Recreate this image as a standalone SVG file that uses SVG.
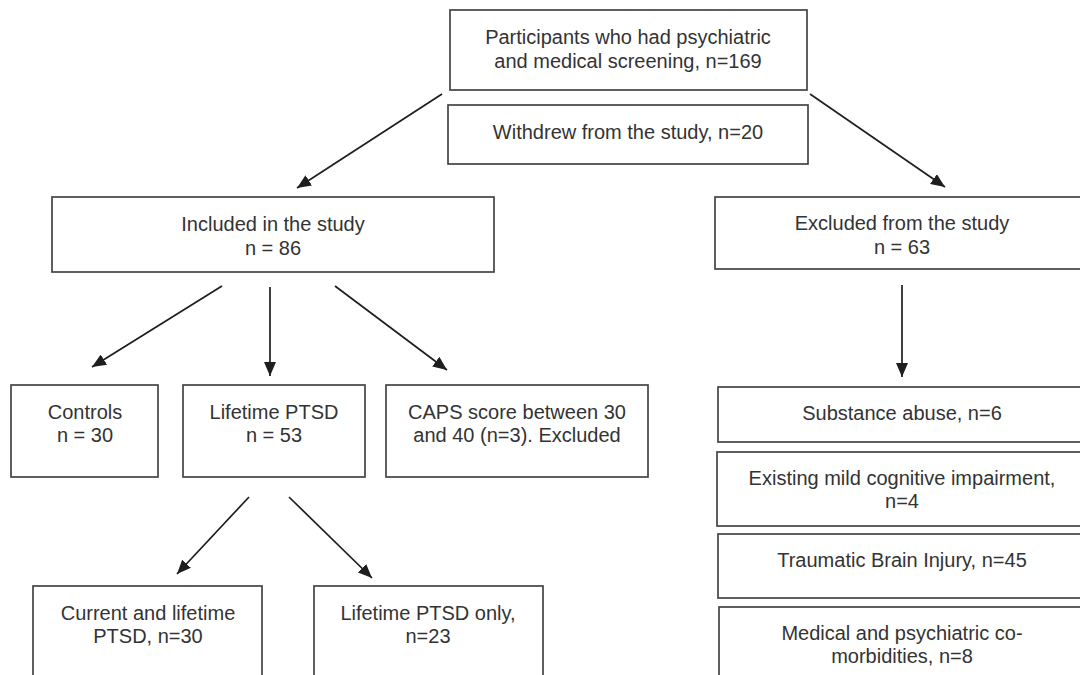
<svg xmlns="http://www.w3.org/2000/svg" width="1080" height="675" viewBox="0 0 1080 675">
<defs>
<style>
.box{fill:#ffffff;stroke:#444444;stroke-width:1.7}
.t{font-family:"Liberation Sans",Arial,sans-serif;font-size:20px;fill:#333333;text-anchor:middle}
.c{stroke:#1e1e1e;stroke-width:1.7;fill:none;marker-end:url(#ah)}
</style>
<marker id="ah" viewBox="0 0 14 12" refX="14" refY="6" markerWidth="14" markerHeight="12" markerUnits="userSpaceOnUse" orient="auto">
<path d="M0,0 L14,6 L0,12 z" fill="#1e1e1e"/>
</marker>
</defs>
<rect width="1080" height="675" fill="#ffffff"/>
<g id="connectors">
<line class="c" x1="442" y1="94" x2="297" y2="188"/>
<line class="c" x1="810" y1="94" x2="945" y2="187"/>
<line class="c" x1="222" y1="286" x2="92" y2="367"/>
<line class="c" x1="270" y1="287" x2="270" y2="376"/>
<line class="c" x1="335" y1="286" x2="447" y2="370"/>
<line class="c" x1="902" y1="285" x2="902" y2="377"/>
<line class="c" x1="249" y1="497" x2="177" y2="574"/>
<line class="c" x1="289" y1="497" x2="372" y2="578"/>
</g>
<g id="screened">
<rect class="box" x="450" y="10" width="357" height="80"/>
<text class="t" x="628" y="44">Participants who had psychiatric</text>
<text class="t" x="628" y="68">and medical screening, n=169</text>
</g>
<g id="withdrew">
<rect class="box" x="448" y="105" width="360" height="59"/>
<text class="t" x="628" y="139">Withdrew from the study, n=20</text>
</g>
<g id="included">
<rect class="box" x="52" y="197" width="442" height="75"/>
<text class="t" x="273" y="231">Included in the study</text>
<text class="t" x="273" y="255">n = 86</text>
</g>
<g id="excluded">
<rect class="box" x="715" y="197" width="374" height="72"/>
<text class="t" x="902" y="230">Excluded from the study</text>
<text class="t" x="902" y="254">n = 63</text>
</g>
<g id="controls">
<rect class="box" x="11" y="385" width="147" height="92"/>
<text class="t" x="85" y="419">Controls</text>
<text class="t" x="85" y="442">n = 30</text>
</g>
<g id="lifetime">
<rect class="box" x="183" y="385" width="182" height="92"/>
<text class="t" x="274" y="419">Lifetime PTSD</text>
<text class="t" x="274" y="442">n = 53</text>
</g>
<g id="caps">
<rect class="box" x="386" y="385" width="262" height="92"/>
<text class="t" x="517" y="419">CAPS score between 30</text>
<text class="t" x="517" y="442">and 40 (n=3). Excluded</text>
</g>
<g id="current">
<rect class="box" x="33" y="586" width="229" height="100"/>
<text class="t" x="148" y="620">Current and lifetime</text>
<text class="t" x="148" y="643">PTSD, n=30</text>
</g>
<g id="lifetimeonly">
<rect class="box" x="314" y="586" width="229" height="100"/>
<text class="t" x="428" y="620">Lifetime PTSD only,</text>
<text class="t" x="428" y="643">n=23</text>
</g>
<g id="substance">
<rect class="box" x="718" y="387" width="370" height="55"/>
<text class="t" x="902" y="420">Substance abuse, n=6</text>
</g>
<g id="mci">
<rect class="box" x="717" y="452" width="371" height="74"/>
<text class="t" x="902" y="485">Existing mild cognitive impairment,</text>
<text class="t" x="902" y="508">n=4</text>
</g>
<g id="tbi">
<rect class="box" x="718" y="534" width="370" height="64"/>
<text class="t" x="902" y="567">Traumatic Brain Injury, n=45</text>
</g>
<g id="comorbid">
<rect class="box" x="719" y="607" width="369" height="80"/>
<text class="t" x="902" y="640">Medical and psychiatric co-</text>
<text class="t" x="902" y="663">morbidities, n=8</text>
</g>
</svg>
